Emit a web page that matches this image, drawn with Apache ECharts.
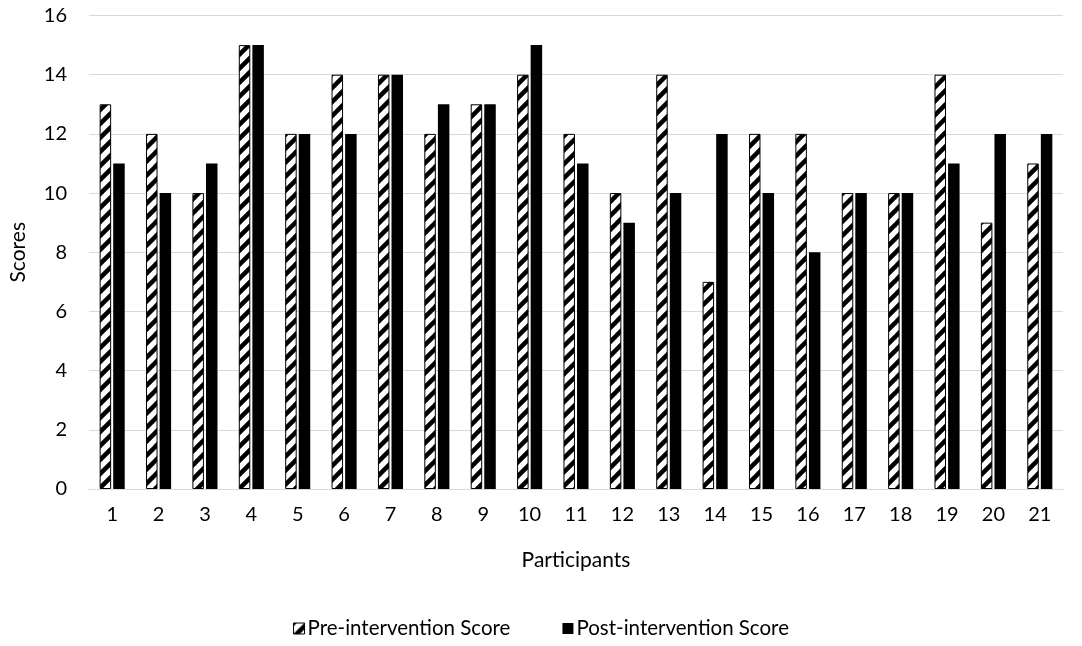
<!DOCTYPE html>
<html>
<head>
<meta charset="utf-8">
<script src="https://cdn.jsdelivr.net/npm/echarts@6/dist/echarts.min.js"></script>
<style>
  html, body { margin: 0; padding: 0; background: #fff; }
  #chart { width: 1082px; height: 646px; }
</style>
</head>
<body>
<div id="chart"></div>
<script>
// Participant numbers and their scores before and after the intervention
const participants = ['1','2','3','4','5','6','7','8','9','10','11','12','13','14','15','16','17','18','19','20','21'];
const preScores  = [13, 12, 10, 15, 12, 14, 14, 12, 13, 14, 12, 10, 14, 7, 12, 12, 10, 10, 14, 9, 11];
const postScores = [11, 10, 11, 15, 12, 12, 14, 13, 13, 15, 11, 9, 10, 12, 10, 8, 10, 10, 11, 12, 12];
const yTicks = { min: 0, max: 16, interval: 2 };

// Diagonal black/white hatch used for the pre-intervention bars
function makeHatch() {
  const size = 14;
  const c = document.createElement('canvas');
  c.width = size; c.height = size;
  const g = c.getContext('2d');
  g.fillStyle = '#fff';
  g.fillRect(0, 0, size, size);
  g.strokeStyle = '#000';
  g.lineWidth = 4.5;
  g.lineCap = 'square';
  for (let k = -1; k <= 1; k++) {
    g.beginPath();
    g.moveTo(k * size, size);
    g.lineTo(k * size + size, 0);
    g.stroke();
  }
  return c;
}
const hatch = { image: makeHatch(), repeat: 'repeat' };

const font = 'Lato, "Open Sans", sans-serif';
const chart = echarts.init(document.getElementById('chart'), null, { renderer: 'canvas' });
chart.setOption({
  animation: false,
  backgroundColor: '#fff',
  textStyle: { fontFamily: font, color: '#000' },
  grid: { left: 89, right: 19, top: 15.5, bottom: 157, containLabel: false },
  legend: {
    bottom: 2,
    left: 'center',
    itemWidth: 11,
    itemHeight: 11,
    itemGap: 52,
    textStyle: { fontFamily: font, fontSize: 20.5, color: '#000', padding: [0, 0, 0, -2] },
    data: [
      { name: 'Pre-intervention Score', icon: 'rect', itemStyle: { color: hatch, borderColor: '#000', borderWidth: 1 } },
      { name: 'Post-intervention Score', icon: 'rect', itemStyle: { color: '#000' } }
    ]
  },
  xAxis: {
    type: 'category',
    data: participants,
    name: 'Participants',
    nameLocation: 'middle',
    nameGap: 61,
    nameTextStyle: { fontFamily: font, fontSize: 21, color: '#000' },
    axisLine: { show: true, lineStyle: { color: '#d9d9d9', width: 1 } },
    axisTick: { show: false },
    axisLabel: { fontFamily: font, fontSize: 20, color: '#000', margin: 16 }
  },
  yAxis: {
    type: 'value',
    min: yTicks.min,
    max: yTicks.max,
    interval: yTicks.interval,
    name: 'Scores',
    nameLocation: 'middle',
    nameGap: 60,
    nameRotate: 90,
    nameTextStyle: { fontFamily: font, fontSize: 21, color: '#000' },
    axisLine: { show: false },
    axisTick: { show: false },
    axisLabel: { fontFamily: font, fontSize: 20, color: '#000', margin: 22 },
    splitLine: { lineStyle: { color: '#d9d9d9', width: 1 } }
  },
  series: [
    {
      name: 'Pre-intervention Score',
      type: 'bar',
      data: preScores,
      barWidth: 11.5,
      barGap: '18%',
      itemStyle: { color: hatch, borderColor: '#000', borderWidth: 1 }
    },
    {
      name: 'Post-intervention Score',
      type: 'bar',
      data: postScores,
      barWidth: 11.5,
      barGap: '18%',
      itemStyle: { color: '#000' }
    }
  ]
});
</script>
</body>
</html>
